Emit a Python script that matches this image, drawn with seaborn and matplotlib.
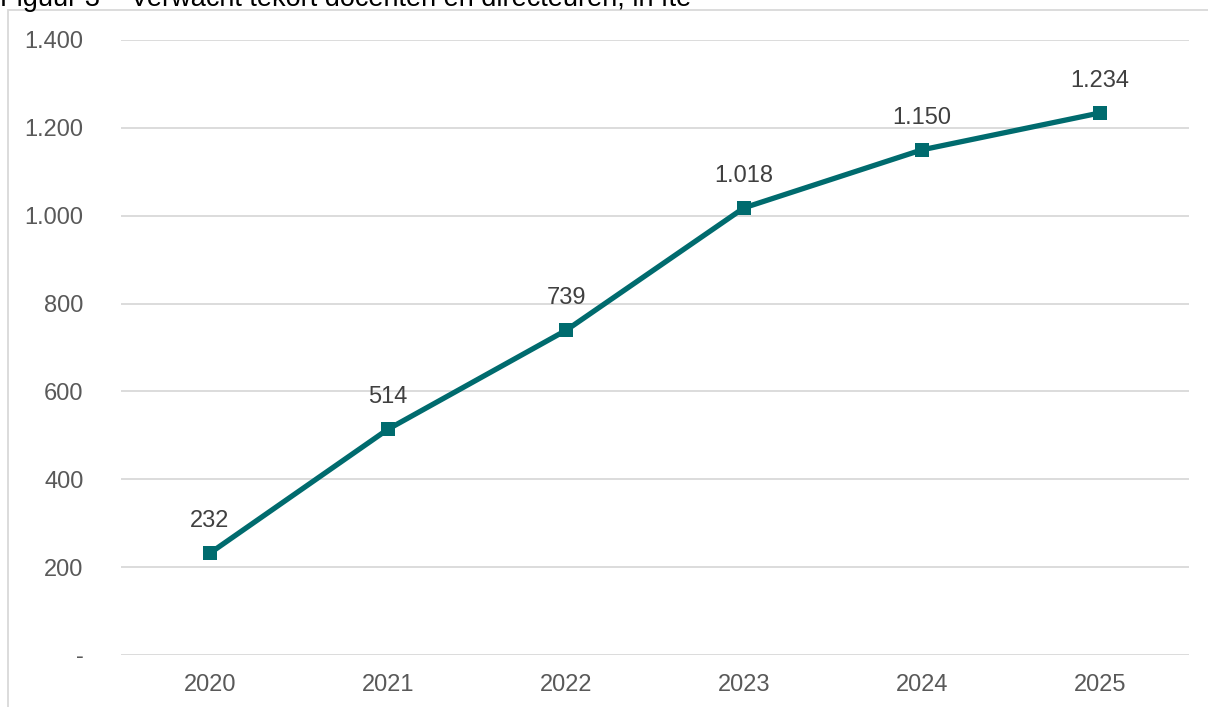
import matplotlib
matplotlib.use("Agg")
import matplotlib.pyplot as plt
import matplotlib.patches as mpatches
import seaborn as sns
import pandas as pd

years = ["2020", "2021", "2022", "2023", "2024", "2025"]
tekort = [232, 514, 739, 1018, 1150, 1234]
y_ticks = [0, 200, 400, 600, 800, 1000, 1200, 1400]
y_tick_labels = ["-", "200", "400", "600", "800", "1.000", "1.200", "1.400"]
title = "Figuur 3 – Verwacht tekort docenten en directeuren, in fte"

sns.set_theme(style="white")
plt.rcParams["font.family"] = ["Liberation Sans", "DejaVu Sans"]

line_color = "#006B6E"
grid_color = "#D9D9D9"

df = pd.DataFrame({"jaar": years, "fte": tekort})

fig = plt.figure(figsize=(12.08, 7.07), dpi=100)
ax = fig.add_axes([121 / 1208, 1 - 655 / 707, (1189 - 121) / 1208, (655 - 40) / 707])

sns.lineplot(data=df, x="jaar", y="fte", ax=ax, color=line_color, linewidth=3.8,
             marker="s", markersize=10, markeredgewidth=0, sort=False)

ax.set_xlim(-0.5, len(years) - 0.5)
ax.set_ylim(0, 1400)
ax.set_yticks(y_ticks)
ax.set_yticklabels(y_tick_labels)
ax.set_xlabel("")
ax.set_ylabel("")
for s in ax.spines.values():
    s.set_visible(False)
ax.grid(axis="y", color=grid_color, linewidth=1.3)
ax.set_axisbelow(True)
ax.tick_params(axis="both", length=0, labelsize=17, labelcolor="#595959")
ax.tick_params(axis="y", pad=27)
ax.tick_params(axis="x", pad=14)

for i, v in enumerate(tekort):
    ax.annotate(f"{v:,}".replace(",", "."), (i, v), xytext=(0, 23),
                textcoords="offset points", ha="center", va="center",
                fontsize=17, color="#404040")

# chart frame and caption running off the top edge
fig.patches.append(mpatches.Rectangle((8 / 1208, -0.1), 1.2, 1 - 10 / 707 + 0.1,
                                      transform=fig.transFigure, fill=False,
                                      edgecolor=grid_color, linewidth=1.3))
fig.text(0, 1 - 6 / 707, title, ha="left", va="baseline", fontsize=19.5, color="black")

fig.savefig("out.png", dpi=100)
